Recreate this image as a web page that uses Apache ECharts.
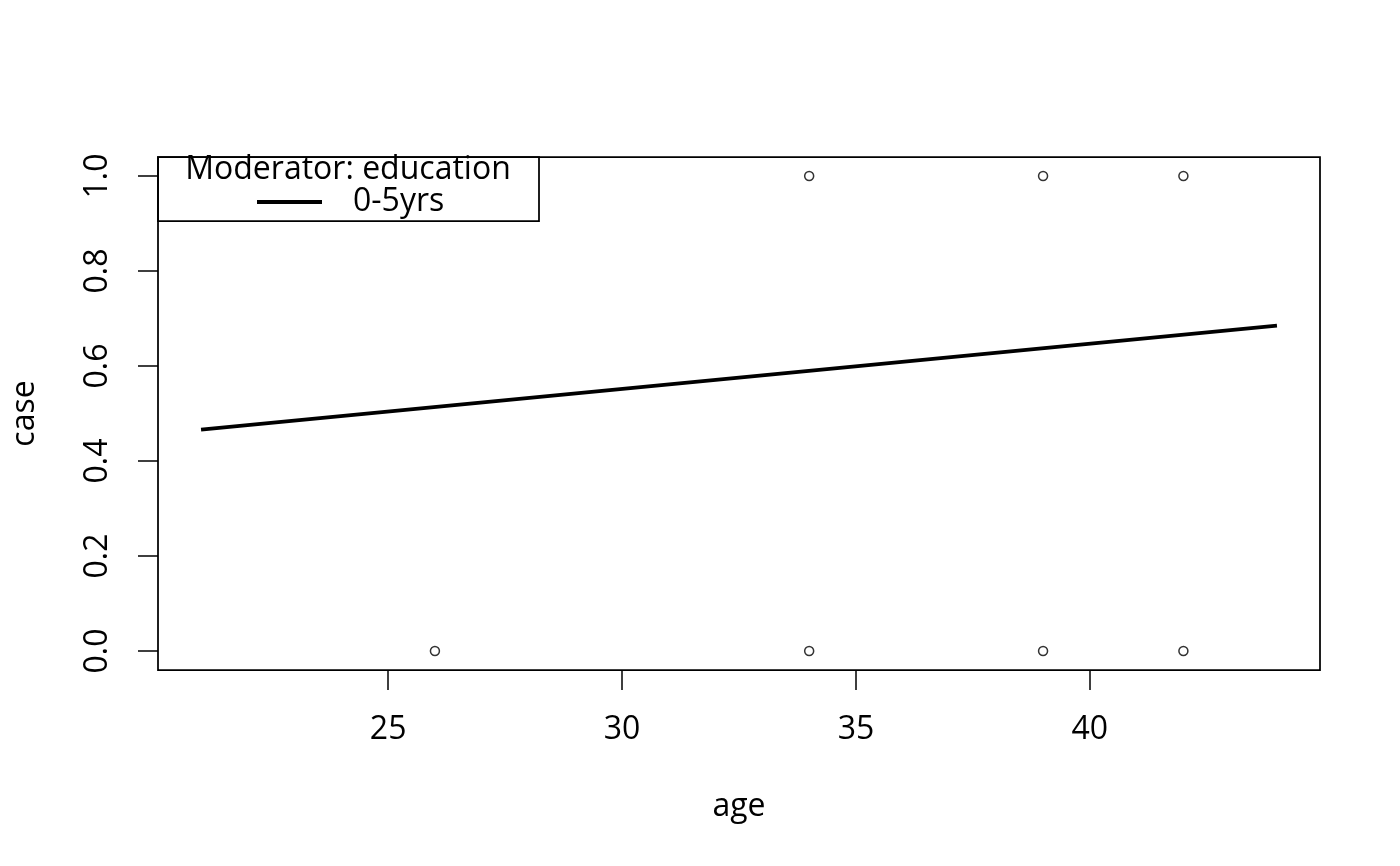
<!DOCTYPE html>
<html>
<head>
<meta charset="utf-8">
<script src="https://cdn.jsdelivr.net/npm/echarts@6/dist/echarts.min.js"></script>
<style>
html, body { margin: 0; padding: 0; background: #fff; }
#main { width: 1400px; height: 866px; }
</style>
</head>
<body>
<div id="main"></div>
<script>
// observed points
var age = [26, 34, 34, 39, 39, 42, 42];
var caseVal = [0, 0, 1, 0, 1, 0, 1];
// fitted line for the moderator level
var lineAge = [21, 44];
var lineCase = [0.466, 0.685];
var lineName = '0-5yrs';
var xTicks = [25, 30, 35, 40];
var yTicks = [0, 0.2, 0.4, 0.6, 0.8, 1.0];

var font = 'Open Sans';
var fs = 32;

var chart = echarts.init(document.getElementById('main'));

var option = {
    animation: false,
    backgroundColor: '#fff',
    textStyle: { fontFamily: font, color: '#000' },
    grid: { left: 158, top: 157, width: 1162, height: 513 },
    xAxis: {
        type: 'value',
        min: 20.08, max: 44.92,
        name: 'age', nameLocation: 'middle', nameGap: 121,
        nameTextStyle: { fontSize: fs, fontFamily: font, color: '#000' },
        axisLine: { show: false, onZero: false },
        splitLine: { show: false },
        axisTick: { show: true, length: 20, customValues: xTicks,
            lineStyle: { color: '#000', width: 1.5 } },
        axisLabel: { customValues: xTicks, fontSize: fs, fontFamily: font, color: '#000', margin: 44 }
    },
    yAxis: {
        type: 'value',
        min: -0.04, max: 1.04,
        name: 'case', nameLocation: 'middle', nameGap: 117, nameRotate: 90,
        nameTextStyle: { fontSize: fs, fontFamily: font, color: '#000' },
        axisLine: { show: false, onZero: false },
        splitLine: { show: false },
        axisTick: { show: true, length: 20, customValues: yTicks,
            lineStyle: { color: '#000', width: 1.5 } },
        axisLabel: { customValues: yTicks, rotate: 90, fontSize: fs, fontFamily: font, color: '#000', margin: 44,
            formatter: function (v) { return v.toFixed(1); } }
    },
    legend: {
        data: [lineName],
        left: 257, top: 186, padding: 0,
        icon: 'rect', itemWidth: 65, itemHeight: 4,
        selectedMode: false,
        textStyle: { fontSize: fs, fontFamily: font, color: '#000', padding: [0, 0, 0, 26] }
    },
    graphic: [
        { type: 'rect', shape: { x: 158, y: 157, width: 1162, height: 513 },
          style: { fill: 'none', stroke: '#000', lineWidth: 1.75 }, z: 10 },
        { type: 'rect', shape: { x: 158, y: 157, width: 381, height: 64 },
          style: { fill: '#fff', stroke: '#000', lineWidth: 1.75 }, z: 0 },
        { type: 'text', x: 348, y: 170,
          style: { text: 'Moderator: education', fontSize: fs, fontFamily: font, fill: '#000',
                   align: 'center', verticalAlign: 'middle' }, z: 10 }
    ],
    series: [
        {
            name: 'points', type: 'scatter',
            data: age.map(function (a, i) { return [a, caseVal[i]]; }),
            symbol: 'circle', symbolSize: 9,
            itemStyle: { color: '#fff', borderColor: '#000', borderWidth: 1.5 }
        },
        {
            name: lineName, type: 'line',
            data: lineAge.map(function (a, i) { return [a, lineCase[i]]; }),
            showSymbol: false,
            lineStyle: { color: '#000', width: 3.75 },
            itemStyle: { color: '#000' }
        }
    ]
};

chart.setOption(option);
</script>
</body>
</html>
